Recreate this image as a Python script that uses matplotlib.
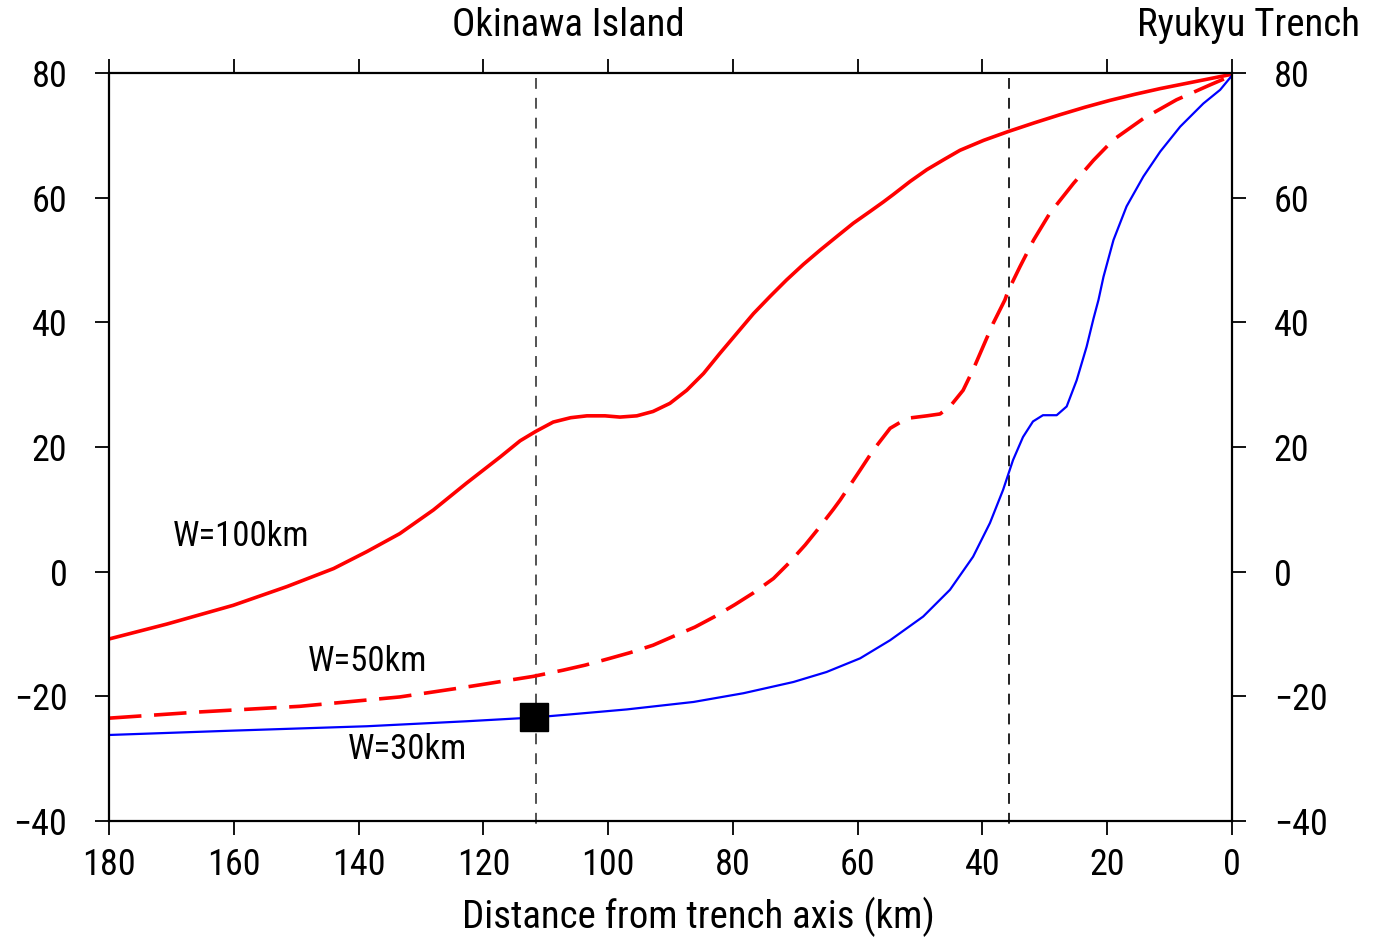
import matplotlib
matplotlib.use("Agg")
import matplotlib.pyplot as plt
from matplotlib import font_manager as fm

# pick a narrow sans font if one is installed
_avail = {f.name for f in fm.fontManager.ttflist}
_font = 'DejaVu Sans'
for _c in ['Roboto Condensed', 'DejaVu Sans Condensed', 'Liberation Sans Narrow',
           'Open Sans Condensed', 'Noto Sans CJK JP']:
    if _c in _avail:
        _font = _c
        break
plt.rcParams['font.family'] = [_font, 'DejaVu Sans']

# ---- data ----
w100_x = [180, 170.7, 160.1, 151.5, 144, 138.7, 133.4, 128, 122.7, 117.3, 114.1, 111.6, 108.8,
          106, 103.4, 100.5, 98.1, 95.4, 92.8, 90.1, 87.4, 84.7, 82.1, 79.4, 76.7, 74, 71.4,
          68.7, 66, 63.3, 60.7, 58, 55.9, 54.3, 51.6, 48.9, 46.2, 43.6, 39.8, 35.9, 31.7,
          27.6, 23.6, 19.6, 15.5, 11.5, 7.5, 3.5, 0]
w100_y = [-10.8, -8.4, -5.4, -2.4, 0.5, 3.2, 6.1, 9.9, 14.2, 18.4, 21.0, 22.5, 24.0,
          24.7, 25.0, 25.0, 24.8, 25.0, 25.7, 27.0, 29.1, 31.8, 35.0, 38.2, 41.4, 44.2, 46.8,
          49.3, 51.6, 53.8, 55.9, 57.8, 59.3, 60.5, 62.6, 64.5, 66.1, 67.6, 69.2, 70.6, 72.0,
          73.3, 74.5, 75.6, 76.6, 77.5, 78.3, 79.1, 79.8]

w50_x = [180, 165.4, 149.4, 133.4, 122.7, 112, 107.2, 103.7, 99.7, 96.5, 92.8, 89.6, 86.1,
         82.9, 79.7, 76.7, 73.5, 71.1, 68.4, 66.3, 63.9, 62.8, 59.6, 57.5, 54.8, 52.1, 48.9,
         46.8, 45.2, 43.1, 41.5, 39.9, 38.3, 36.4, 35.9, 34, 31.8, 29.2, 25.4, 22.2, 19,
         14.2, 8.9, 3.5, 0]
w50_y = [-23.5, -22.5, -21.6, -20.1, -18.5, -16.8, -15.8, -15.0, -13.9, -13.0, -11.8, -10.4, -8.9,
         -7.2, -5.3, -3.4, -1.1, 1.3, 4.3, 6.9, 10.0, 11.5, 16.3, 19.5, 23.0, 24.6, 25.0,
         25.3, 26.5, 29.1, 32.4, 36.1, 39.8, 43.6, 45.0, 48.9, 53.2, 57.5, 62.3, 66.0, 69.3,
         72.7, 75.7, 78.1, 79.6]

w30_x = [180, 160.1, 138.7, 122.7, 112, 106.1, 97, 86.3, 78.3, 70.3, 65, 59.6, 54.8, 49.5,
         45.2, 41.5, 38.8, 36.7, 35.1, 33.5, 31.9, 30.3, 28.1, 26.5, 24.9, 23.3, 22.2, 21.4,
         20.6, 19, 16.9, 14.2, 11.5, 8.3, 4.6, 1.9, 0]
w30_y = [-26.2, -25.5, -24.8, -24.0, -23.4, -22.9, -22.1, -20.9, -19.5, -17.7, -16.1, -13.9, -11.0, -7.2,
         -2.9, 2.4, 7.8, 13.1, 17.9, 21.6, 24.1, 25.1, 25.1, 26.5, 30.7, 36.1, 40.6, 43.6,
         47.3, 53.2, 58.6, 63.4, 67.4, 71.4, 75.1, 77.3, 79.6]

marker_x = [111.9]
marker_y = [-23.3]

vlines_x = [111.5, 35.7]

series_labels = ["W=100km", "W=50km", "W=30km"]
label_pos_x = [158.8, 138.5, 132.2]
label_pos_y = [5.6, -14.4, -28.6]

xticks = [180, 160, 140, 120, 100, 80, 60, 40, 20, 0]
yticks = [-40, -20, 0, 20, 40, 60, 80]

top_labels = ["Okinawa Island", "Ryukyu Trench"]
top_label_x = [106.4, -2.7]

xlabel_text = "Distance from trench axis (km)"

# ---- figure ----
fig = plt.figure(figsize=(13.87, 9.41), dpi=100)
ax = fig.add_axes([109/1387, (941-821)/941, (1232-109)/1387, (821-73)/941])

ax.plot(w100_x, w100_y, color='#ff0000', lw=2.6, solid_joinstyle='round')
ax.plot(w50_x, w50_y, color='#ff0000', lw=2.6, dashes=(9, 3.5))
ax.plot(w30_x, w30_y, color='#0000ff', lw=1.6, solid_joinstyle='round')
ax.plot(marker_x, marker_y, 's', color='black', ms=19.5, zorder=5)

for i, vx in enumerate(vlines_x):
    ax.plot([vx, vx], [79.2, -41.2], color='#444444' if i == 0 else '#111111',
            lw=1.3, dashes=(6, 5), clip_on=False, zorder=1)

for t, lx, ly in zip(series_labels, label_pos_x, label_pos_y):
    ax.text(lx, ly, t, fontsize=25, ha='center', va='center')

for t, tx in zip(top_labels, top_label_x):
    ax.text(tx, 1.064, t, fontsize=28, ha='center', va='center',
            transform=ax.get_xaxis_transform(), clip_on=False)

ax.text(0.525, -0.128, xlabel_text, fontsize=28, ha='center', va='center',
        transform=ax.transAxes)

ax.set_xlim(180, 0)
ax.set_ylim(-40, 80)
ax.set_xticks(xticks)
ax.set_yticks(yticks)
ax.set_xticklabels([str(v) for v in xticks])
ax.set_yticklabels([str(v).replace('-', '\u2212') for v in yticks])

ax.tick_params(axis='both', direction='out', length=10, width=1.3, labelsize=26)
ax.tick_params(axis='x', top=True, labeltop=False, pad=9)
ax.tick_params(axis='y', right=True, labelright=True, pad=20)
for s in ax.spines.values():
    s.set_linewidth(1.6)

fig.savefig("out.png", dpi=100)
